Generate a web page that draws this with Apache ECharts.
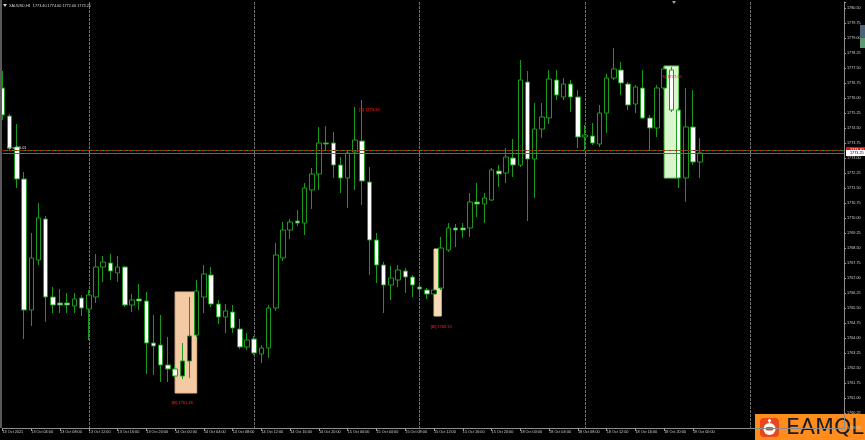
<!DOCTYPE html>
<html><head><meta charset="utf-8">
<script src="https://cdn.jsdelivr.net/npm/echarts/dist/echarts.min.js"></script>
<style>html,body{margin:0;padding:0;background:#000;}#c{width:865px;height:440px;}</style>
</head><body><div id="c"></div>
<script>
const opens = [1776.50,1775.10,1773.55,1771.95,1765.40,1767.90,1769.95,1766.05,1765.75,1765.75,
 1765.60,1766.00,1765.45,1766.05,1767.55,1767.75,1767.25,1767.55,1765.65,1765.95,
 1765.85,1763.75,1763.65,1762.65,1762.45,1762.10,1762.85,1764.15,1766.05,1767.15,
 1765.70,1765.05,1765.30,1764.45,1763.55,1763.95,1763.20,1763.50,1765.50,1768.00,
 1769.40,1769.85,1769.75,1771.40,1772.20,1773.75,1773.75,1772.65,1772.00,1773.30,
 1773.85,1771.80,1768.90,1767.65,1766.65,1766.90,1767.35,1767.05,1766.55,1766.40,
 1766.20,1766.50,1768.40,1769.50,1769.50,1769.50,1770.80,1770.70,1770.90,1772.35,
 1772.25,1773.00,1772.65,1776.80,1772.95,1774.45,1775.00,1776.90,1776.05,1776.70,
 1776.05,1774.05,1774.10,1773.70,1775.25,1777.00,1777.40,1776.70,1775.70,1776.50,
 1775.00,1774.50,1776.50,1777.40,1775.40,1772.00,1774.55,1772.80];
const closes = [1775.15,1773.50,1771.95,1765.40,1768.00,1770.00,1766.05,1765.65,1765.65,1765.65,
 1765.95,1765.50,1766.15,1767.55,1767.80,1767.35,1767.55,1765.65,1765.90,1765.85,
 1763.75,1763.60,1762.65,1762.45,1762.10,1762.85,1764.10,1766.35,1767.20,1765.70,
 1765.05,1765.35,1764.50,1763.55,1763.90,1763.25,1763.50,1765.50,1768.15,1769.40,
 1769.80,1769.75,1771.50,1772.20,1773.75,1773.70,1772.65,1772.00,1773.25,1773.90,
 1771.85,1768.90,1767.65,1766.65,1767.00,1767.40,1767.05,1766.65,1766.45,1766.20,
 1766.40,1768.50,1769.50,1769.40,1769.40,1770.80,1770.70,1771.00,1772.40,1772.20,
 1773.05,1772.65,1776.90,1772.95,1774.45,1775.05,1776.95,1776.15,1776.70,1776.05,
 1774.05,1774.15,1773.75,1775.25,1777.00,1777.45,1776.75,1775.65,1776.55,1775.00,
 1774.50,1776.50,1777.45,1775.40,1772.00,1774.55,1772.80,1773.25];
const lows = [1774.90,1773.40,1771.50,1763.95,1764.60,1767.65,1764.80,1765.25,1765.25,1765.25,
 1765.25,1765.10,1763.90,1765.75,1766.80,1766.90,1766.80,1765.55,1765.30,1765.40,
 1762.20,1762.15,1761.80,1761.80,1762.00,1761.95,1762.00,1764.05,1765.25,1765.55,
 1764.70,1764.25,1764.25,1763.45,1763.40,1763.15,1762.75,1763.00,1765.35,1767.85,
 1768.95,1769.60,1769.15,1770.45,1771.40,1773.40,1772.00,1771.25,1770.50,1771.40,
 1770.65,1767.15,1766.75,1765.25,1765.90,1766.55,1766.25,1766.05,1766.05,1765.95,
 1766.10,1766.40,1768.30,1768.55,1769.00,1769.05,1770.05,1769.75,1770.85,1771.55,
 1771.75,1772.05,1772.55,1769.85,1771.00,1774.00,1774.70,1775.90,1775.90,1775.30,
 1773.50,1773.40,1773.65,1773.55,1774.25,1776.90,1776.15,1775.40,1775.25,1774.95,
 1773.40,1774.05,1776.40,1775.30,1771.50,1770.80,1772.65,1772.00];
const highs = [1777.35,1775.20,1774.70,1772.30,1769.25,1770.75,1770.10,1766.55,1766.45,1766.25,
 1766.25,1766.15,1766.40,1768.20,1768.10,1768.20,1768.10,1767.60,1766.20,1766.70,
 1766.30,1765.15,1765.15,1764.05,1762.65,1763.75,1766.05,1766.90,1767.65,1767.55,
 1765.90,1765.70,1765.65,1764.95,1764.25,1764.10,1763.65,1765.65,1768.75,1769.80,
 1769.95,1770.40,1771.75,1772.50,1774.55,1774.60,1774.30,1773.05,1773.40,1775.55,
 1775.90,1772.55,1769.25,1767.80,1767.60,1767.65,1767.50,1767.15,1766.80,1766.50,
 1766.55,1769.05,1769.75,1769.70,1769.75,1771.25,1771.75,1771.25,1772.50,1772.65,
 1773.50,1773.95,1777.90,1777.35,1775.75,1775.75,1777.40,1777.40,1777.00,1776.90,
 1776.40,1774.65,1774.75,1775.65,1777.20,1778.50,1777.80,1776.80,1776.65,1777.40,
 1775.15,1776.65,1777.60,1777.55,1775.50,1776.50,1776.40,1774.00];

// time labels, one every 4 bars
const timeLabels = ['13 Oct 2021','13 Oct 04:00','13 Oct 08:00','13 Oct 12:00','13 Oct 16:00','13 Oct 20:00',
 '14 Oct 00:00','14 Oct 04:00','14 Oct 08:00','14 Oct 12:00','14 Oct 16:00','14 Oct 20:00',
 '15 Oct 00:00','15 Oct 04:00','15 Oct 08:00','15 Oct 12:00','15 Oct 16:00','15 Oct 20:00',
 '18 Oct 00:00','18 Oct 04:00','18 Oct 08:00','18 Oct 12:00','18 Oct 16:00','18 Oct 20:00','19 Oct 00:00'];
const slotCount = 118;

// trade boxes: [fromBar, toBar, topPrice, bottomPrice]
const boxRanges = [[24,27,1766.30,1761.25],[60,61,1768.45,1765.10],[92,94,1777.60,1772.00]];
// trade notes
const notePositions = [[25,1760.75],[61,1764.55],[51,1775.40],[93,1777.05]];
const noteLabels = ['[B] 1761.25','[B] 1765.10','[S] 1775.90','[S] 1777.60'];
const askPrice = 1773.40;
const bidPrice = 1773.25;
const headerText = 'XAUUSD,H1  1773.40 1774.00 1772.00 1773.25';

// y scale ticks
const yMin = 1759.50, yMax = 1780.80, yStep = 0.75;

const boxStyles = [
  {fill:'#f3caa3', stroke:'#e9b98c'},
  {fill:'#f6dcb6', stroke:'#efcf9e'},
  {fill:'#dbf5cf', stroke:'#6ccf5f'}
];

const cats = [];
for (let i = 0; i < slotCount; i++) cats.push(String(i));
const candleData = opens.map((o, i) => [o, closes[i], lows[i], highs[i]]);
const boxData = boxRanges.map(b => b.slice());
const noteData = notePositions.map((p, i) => [p[0], p[1], noteLabels[i]]);

const chart = echarts.init(document.getElementById('c'), null, {renderer: 'canvas'});
const FONT = 'Liberation Sans';
chart.setOption({
  backgroundColor: '#000000',
  animation: false,
  grid: {left: 2.5, right: 21, top: 2, bottom: 12, containLabel: false, outerBoundsMode: 'none'},
  xAxis: {
    type: 'category', data: cats, boundaryGap: false,
    axisLine: {show: true, lineStyle: {color: '#8c8c8c', width: 1}},
    axisTick: {show: true, length: 3, interval: (i) => i % 4 === 0 && i / 4 < timeLabels.length, lineStyle: {color: '#9a9a9a'}},
    axisLabel: {
      show: true, interval: (i) => i % 4 === 0 && i / 4 < timeLabels.length,
      formatter: (v, i) => timeLabels[i / 4] || '',
      align: 'left', fontSize: 3.8, color: '#cfcfcf', margin: 2, fontFamily: FONT, hideOverlap: false
    },
    splitLine: {show: true, interval: (i) => i >= 12 && (i - 12) % 23 === 0, lineStyle: {color: '#6f6f6f', width: 1, type: [3, 1]}}
  },
  yAxis: {
    type: 'value', position: 'right', min: yMin, max: yMax, interval: yStep,
    axisLine: {show: true, lineStyle: {color: '#8c8c8c', width: 1}},
    axisTick: {show: true, length: 2, lineStyle: {color: '#9a9a9a'}},
    axisLabel: {
      fontSize: 3.8, color: '#d0d0d0', margin: 3, fontFamily: FONT,
      formatter: (v) => {
        const k = (v - yMin) / yStep;
        return Math.abs(k - Math.round(k)) < 1e-4 ? v.toFixed(2) : '';
      }
    },
    splitLine: {show: false}
  },
  series: [
    {
      type: 'custom', z: 1, coordinateSystem: 'cartesian2d',
      encode: {x: [0, 1], y: [2, 3]},
      data: boxData,
      renderItem: (params, api) => {
        const a = api.coord([api.value(0), api.value(2)]);
        const b = api.coord([api.value(1), api.value(3)]);
        const st = boxStyles[params.dataIndex];
        return {type: 'rect', shape: {x: a[0], y: a[1], width: b[0] - a[0], height: b[1] - a[1]},
          style: {fill: st.fill, stroke: st.stroke, lineWidth: 1}};
      }
    },
    {
      type: 'candlestick', z: 3, data: candleData, barWidth: 5,
      itemStyle: {color: '#000000', color0: '#ffffff', borderColor: '#1a9a1a', borderColor0: '#1a9a1a', borderColorDoji: '#1a9a1a', borderWidth: 1},
      markLine: {
        silent: true, symbol: 'none', animation: false,
        data: [
          {yAxis: askPrice, lineStyle: {color: '#c81010', type: [3, 3], width: 1},
           label: {show: true, position: 'end', formatter: askPrice.toFixed(2), backgroundColor: '#e01010', color: '#ffffff', fontSize: 3.8, padding: [1, 4, 1, 4], distance: 2, fontFamily: FONT}},
          {yAxis: askPrice, lineStyle: {color: '#3c8c2c', type: [3, 3], dashOffset: 3, width: 1}, label: {show: false}},
          {yAxis: bidPrice, lineStyle: {color: '#5f6b70', type: 'solid', width: 1},
           label: {show: true, position: 'end', formatter: bidPrice.toFixed(2), backgroundColor: '#ffffff', color: '#000000', fontSize: 3.8, padding: [1, 4, 1, 4], distance: 2, fontFamily: FONT}}
        ]
      }
    },
    {
      type: 'scatter', z: 6, zlevel: 0, data: noteData, symbol: 'circle', symbolSize: 1,
      itemStyle: {color: 'rgba(0,0,0,0)'},
      labelLayout: {hideOverlap: false},
      label: {show: true, position: 'inside', formatter: (p) => p.value[2], color: '#ff1c1c', fontSize: 4, fontWeight: 'bold', fontFamily: FONT}
    }
  ],
  graphic: [
    {type: 'line', z: 10, shape: {x1: 1, y1: 0, x2: 1, y2: 428}, style: {stroke: '#5a5a5a', lineWidth: 2}},
    {type: 'polygon', z: 10, shape: {points: [[3, 4], [7, 4], [5, 7]]}, style: {fill: '#d0d0d0'}},
    {type: 'text', z: 10, x: 9, y: 5.5, style: {text: headerText, fill: '#d8d8d8', font: '3.8px ' + FONT, verticalAlign: 'middle'}},
    {type: 'text', z: 10, x: 7, y: 147.5, style: {text: '#1 sell 0.01', fill: '#e8e8e8', font: '3.8px ' + FONT, verticalAlign: 'middle'}},
    {type: 'polygon', z: 10, shape: {points: [[672, 1], [676, 1], [674, 4]]}, style: {fill: '#9aa0a6'}},
    {type: 'rect', z: 10, shape: {x: 860, y: 25, width: 5, height: 13}, style: {fill: '#4c6276'}},
    {type: 'rect', z: 10, shape: {x: 860, y: 38, width: 5, height: 10}, style: {fill: '#5b9a6e'}},
    {type: 'group', z: 20, children: [
      {type: 'rect', shape: {x: 755, y: 414, width: 110, height: 26}, style: {fill: '#ff8c1c'}},
      {type: 'rect', shape: {x: 760, y: 418, width: 19, height: 19, r: 4}, style: {fill: '#e8471c'}},
      {type: 'circle', shape: {cx: 769.5, cy: 429, r: 6}, style: {fill: '#ffffff'}},
      {type: 'circle', shape: {cx: 769.5, cy: 420.5, r: 1.6}, style: {fill: '#ffffff'}},
      {type: 'line', shape: {x1: 769.5, y1: 421, x2: 769.5, y2: 423.5}, style: {stroke: '#ffffff', lineWidth: 1.2}},
      {type: 'rect', shape: {x: 765.5, y: 427, width: 8, height: 3.4, r: 1.7}, style: {fill: '#e8471c'}},
      {type: 'text', x: 786, y: 428, style: {text: 'EAMQL', fill: '#1b1b1b', font: '22px DejaVu Sans', verticalAlign: 'middle'}}
    ]}
  ]
});
</script>
</body></html>
